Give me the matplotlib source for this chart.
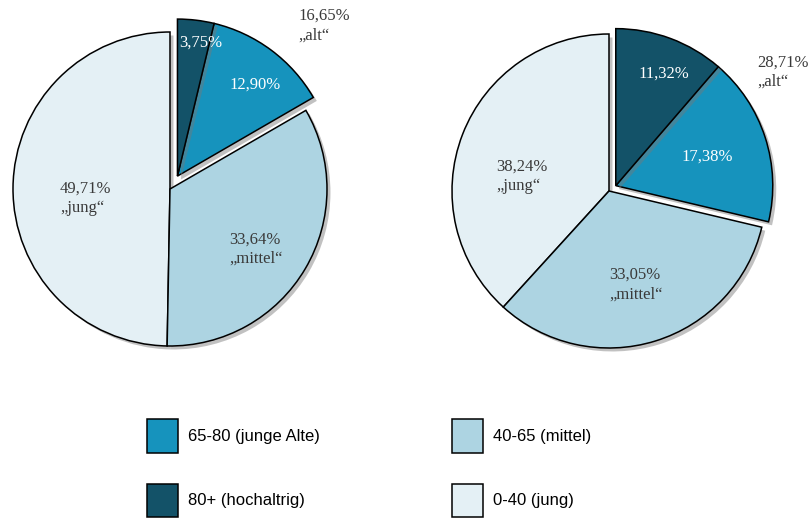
import matplotlib.pyplot as plt
import matplotlib.patheffects as pe
import numpy as np
from matplotlib.patches import Patch

groups = ["0-40 (jung)", "40-65 (mittel)", "65-80 (junge Alte)", "80+ (hochaltrig)"]
short = ["jung", "mittel", None, None]
colors = ["#E4F0F5", "#ADD4E2", "#1693BD", "#135268"]

left_share = [49.71, 33.64, 12.90, 3.75]
right_share = [38.24, 33.05, 17.38, 11.32]
alt_total = [16.65, 28.71]

R_PX = 157
W, H = 808, 518


def fmt(v):
    return f"{v:.2f}".replace(".", ",") + "%"


def draw_pie(cx, cy, shares, explode, label_pos, alt_value, alt_pos):
    span = 2.6
    size = span * R_PX
    ax = fig.add_axes([(cx - size / 2) / W, (H - cy - size / 2) / H, size / W, size / H])
    ax.set_aspect("equal")
    ax.axis("off")

    wedges, _ = ax.pie(shares, colors=colors, startangle=90, counterclock=True,
                       radius=1.0, center=(0, 0), frame=False,
                       wedgeprops=dict(edgecolor="black", linewidth=1.1))
    ax.set_xlim(-span / 2, span / 2)
    ax.set_ylim(-span / 2, span / 2)

    # pull the two "alt" wedges out together
    mid = np.deg2rad((wedges[2].theta1 + wedges[3].theta2) / 2)
    off = (explode * np.cos(mid), explode * np.sin(mid))
    for w in wedges[2:]:
        w.set_center(off)
    for w in wedges:
        w.set_path_effects([pe.SimplePatchShadow(offset=(2.5, -2.5), shadow_rgbFace="#777777", alpha=0.45),
                            pe.Normal()])

    for i, (x, y) in enumerate(label_pos):
        txt = fmt(shares[i])
        col = "#3a3a3a"
        if short[i]:
            txt += "\n\u201e" + short[i] + "\u201c"
        else:
            col = "white"
        ax.text(x, y, txt, ha="left", va="center", color=col, fontsize=12,
                family="Liberation Serif", linespacing=1.3, zorder=10)
    ax.text(alt_pos[0], alt_pos[1], fmt(alt_value) + "\n\u201ealt\u201c", ha="left", va="center",
            color="#3a3a3a", fontsize=12, family="Liberation Serif", linespacing=1.3,
            zorder=10, clip_on=False)
    return ax


fig = plt.figure(figsize=(W / 100, H / 100), dpi=100)

draw_pie(170, 189, left_share, 0.095,
         [(-0.70, -0.057), (0.376, -0.382), (0.376, 0.662), (0.057, 0.93)],
         alt_total[0], (0.82, 1.04))
draw_pie(609, 191, right_share, 0.055,
         [(-0.72, 0.092), (0.0, -0.596), (0.459, 0.217), (0.185, 0.75)],
         alt_total[1], (0.943, 0.758))

order = [2, 3, 1, 0]
handles = [Patch(facecolor=colors[i], edgecolor="black", linewidth=1.1) for i in order]
fig.legend(handles, [groups[i] for i in order], ncol=2, frameon=False,
           loc="upper left", bbox_to_anchor=(147 / W, 1 - 419 / H),
           borderpad=0, borderaxespad=0, handlelength=1.86, handleheight=2.72,
           handletextpad=0.6, labelspacing=1.86, columnspacing=7.9,
           prop=dict(family="Liberation Sans", size=12))

fig.savefig("out.png", dpi=100)
